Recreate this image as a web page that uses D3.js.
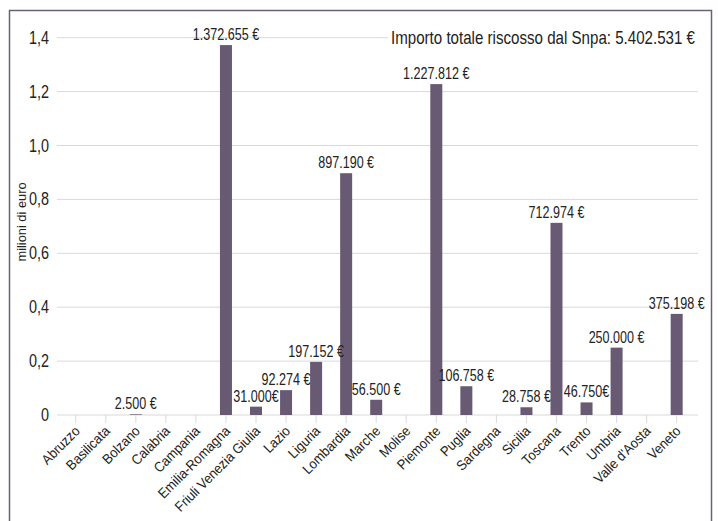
<!DOCTYPE html>
<html>
<head>
<meta charset="utf-8">
<script src="https://cdn.jsdelivr.net/npm/d3@7"></script>
<style>
  html, body { margin: 0; padding: 0; background: #fff; }
  svg { display: block; }
  text { font-family: 'Liberation Sans', Arial, sans-serif; fill: #222; }
</style>
</head>
<body>
<svg id="chart" width="718" height="521"></svg>
<script>
// Regions and the amounts collected (millions of euro)
const regions = ["Abruzzo", "Basilicata", "Bolzano", "Calabria", "Campania", "Emilia-Romagna",
  "Friuli Venezia Giulia", "Lazio", "Liguria", "Lombardia", "Marche", "Molise", "Piemonte",
  "Puglia", "Sardegna", "Sicilia", "Toscana", "Trento", "Umbria", "Valle d'Aosta", "Veneto"];
const amounts = [0, 0, 0.0025, 0, 0, 1.372655, 0.031, 0.092274, 0.197152, 0.89719, 0.0565, 0,
  1.227812, 0.106758, 0, 0.028758, 0.712974, 0.04675, 0.25, 0, 0.375198];
const valueLabels = ["", "", "2.500 €", "", "", "1.372.655 €", "31.000€", "92.274 €", "197.152 €",
  "897.190 €", "56.500 €", "", "1.227.812 €", "106.758 €", "", "28.758 €", "712.974 €",
  "46.750€", "250.000 €", "", "375.198 €"];
const yTicks = [0, 0.2, 0.4, 0.6, 0.8, 1.0, 1.2, 1.4];
const yTickLabels = ["0", "0,2", "0,4", "0,6", "0,8", "1,0", "1,2", "1,4"];
const yTitle = "milioni di euro";
const totalNote = "Importo totale riscosso dal Snpa: 5.402.531 €";

const barColor = "#695a73";
const gridColor = "#d9d9d9";
const svg = d3.select("#chart");

// Narrow text: a positioned (and optionally rotated) group holding a horizontally squeezed text
function narrowText(parent, px, py, str, size, squeeze, anchor, angle = 0) {
  const g = parent.append("g").attr("transform", `translate(${px},${py}) rotate(${angle})`);
  return g.append("text")
    .attr("transform", `scale(${squeeze},1)`)
    .attr("text-anchor", anchor)
    .attr("font-size", size)
    .text(str);
}

// Outer frame
svg.append("rect")
  .attr("x", 9.5).attr("y", 10.5).attr("width", 702).attr("height", 530)
  .attr("fill", "none").attr("stroke", "#6e5f78").attr("stroke-width", 1.5);

const gridLeft = 57, gridRight = 698;
const x = d3.scaleBand().domain(regions).range([60.7, 691.7]);
const y = d3.scaleLinear().domain([0, 1.4]).range([415, 37.7]);
const cx = d => x(d) + x.bandwidth() / 2;

// Horizontal gridlines and baseline
svg.append("g").selectAll("line").data(yTicks).join("line")
  .attr("x1", gridLeft).attr("x2", gridRight)
  .attr("y1", d => y(d)).attr("y2", d => y(d))
  .attr("stroke", gridColor).attr("stroke-width", 1);

// Category tick marks
const xAxis = d3.axisBottom(x).tickSize(8).tickSizeOuter(0).tickFormat("");
svg.append("g").attr("transform", `translate(0,${y(0)})`).call(xAxis)
  .call(g => g.select(".domain").remove())
  .call(g => g.selectAll(".tick line").attr("stroke", gridColor));

// Y tick labels
const yLabels = svg.append("g");
yTicks.forEach((t, i) => narrowText(yLabels, 49, y(t) + 6, yTickLabels[i], 18, 0.8, "end"));

// Y title
narrowText(svg, 26, 222, yTitle, 13.5, 0.95, "middle", -90);

// Category labels, rotated
const xLabels = svg.append("g");
regions.forEach(r => narrowText(xLabels, cx(r) + 5, 432, r, 14, 0.92, "end", -45));

// Bars
svg.append("g").selectAll("rect").data(regions).join("rect")
  .attr("x", d => cx(d) - 6)
  .attr("width", 12)
  .attr("y", (d, i) => y(amounts[i]))
  .attr("height", (d, i) => y(0) - y(amounts[i]))
  .attr("fill", barColor);

// Value labels above bars
const vLabels = svg.append("g");
regions.forEach((r, i) => {
  if (valueLabels[i]) narrowText(vLabels, cx(r), y(amounts[i]) - 5, valueLabels[i], 17, 0.74, "middle");
});

// Total note with white backing
const note = svg.append("g");
const noteBg = note.append("rect").attr("fill", "#fff");
const noteText = narrowText(note, 695, 43.5, totalNote, 18, 0.84, "end").attr("fill", "#111");
const bb = noteText.node().getBBox();
noteBg.attr("x", 695 + bb.x * 0.84 - 3).attr("y", 43.5 + bb.y)
  .attr("width", bb.width * 0.84 + 6).attr("height", bb.height);
</script>
</body>
</html>
